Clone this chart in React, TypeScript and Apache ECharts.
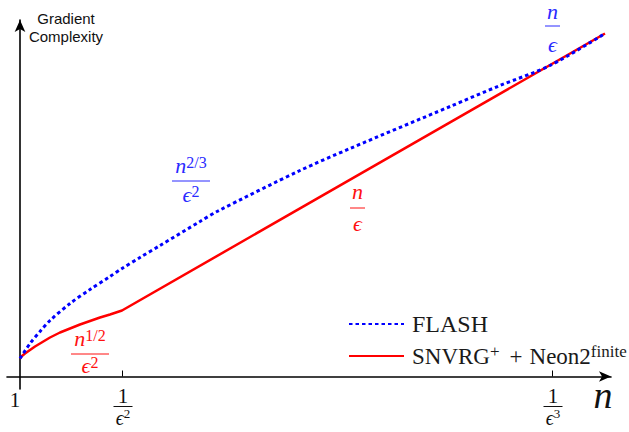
import { useEffect, useRef } from "react";
import * as echarts from "echarts";

const SERIF = "Liberation Serif, DejaVu Serif, serif";
const SANS = "Liberation Sans, Arial, sans-serif";

const FLASH_NAME = "FLASH";
const SNVRG_NAME = "SNVRG+ + Neon2finite";

// schematic units: x = position along n axis, y = gradient complexity
const snvrgX = [0, 2, 5, 10, 15, 20, 30, 40, 50, 60, 70, 80, 90, 102, 585];
const snvrgY = [18, 20.5, 23, 26.5, 30, 33, 39, 44, 48, 52, 55.5, 59, 62, 66, 343];
const flashX = [0, 10, 20, 30, 50, 70, 90, 102, 120, 140, 180, 197, 280, 330, 430, 480, 530, 585];
const flashY = [18, 33, 45, 56, 73, 87, 100, 108, 119, 131, 155, 165, 206, 228, 270, 291, 311, 343];

// x-axis ticks: 1/eps^2 and 1/eps^3
const tickValues = [102, 532];
const tickPowers = ["2", "3"];

const BLUE = "#0000ff";
const RED = "#ff0000";
const BLUE_TEXT = "#2a2aff";
const RED_TEXT = "#ff1010";

// curve annotations: anchor (bar centre) in data units
const curveLabels = [
  { x: 171, y: 195.5, num: "{i|n}{s|2/3}", den: "{i|ϵ}{s|2}", color: BLUE_TEXT, bar: 38, numDy: -15.5, denDy: 13 },
  { x: 337.5, y: 168.5, num: "{i|n}", den: "{i|ϵ}", color: RED_TEXT, bar: 15, numDy: -17, denDy: 15 },
  { x: 70, y: 22.5, num: "{i|n}{s|1/2}", den: "{i|ϵ}{s|2}", color: RED_TEXT, bar: 38, numDy: -16, denDy: 11 },
  { x: 532.5, y: 350.5, num: "{i|n}", den: "{i|ϵ}", color: BLUE_TEXT, bar: 15, numDy: -14.5, denDy: 18 },
];

function richFor(color: string) {
  return {
    i: { fontFamily: SERIF, fontStyle: "italic", fontSize: 22, lineHeight: 22, fill: color },
    s: { fontFamily: SERIF, fontSize: 16, lineHeight: 14, verticalAlign: "top", fill: color },
    r: { fontFamily: SERIF, fontSize: 21, lineHeight: 22, fill: color },
    is: { fontFamily: SERIF, fontStyle: "italic", fontSize: 20, lineHeight: 22, fill: color },
    ss: { fontFamily: SERIF, fontSize: 13, lineHeight: 13, verticalAlign: "top", fill: color },
  };
}

function textEl(x: number, y: number, text: string, color: string, extra: any = {}) {
  return {
    type: "text",
    x,
    y,
    z: 10,
    style: {
      text,
      fill: color,
      align: "center",
      verticalAlign: "middle",
      textAlign: "center",
      textVerticalAlign: "middle",
      rich: richFor(color),
      ...extra,
    },
  };
}

function barEl(cx: number, y: number, w: number, color: string) {
  return {
    type: "line",
    z: 10,
    shape: { x1: cx - w / 2, y1: y, x2: cx + w / 2, y2: y },
    style: { stroke: color, lineWidth: 1 },
  };
}

export default function App() {
  const ref = useRef<HTMLDivElement>(null);

  useEffect(() => {
    const chart = echarts.init(ref.current!, null, { renderer: "svg" });
    const axisLineStyle = { color: "#000", width: 1.6 };
    chart.setOption({
      animation: false,
      backgroundColor: "#fff",
      grid: { left: 7, right: 18, top: 20, bottom: 43, containLabel: false },
      xAxis: {
        type: "value",
        min: -13,
        max: 591,
        axisLine: {
          show: true,
          onZero: true,
          symbol: ["none", "arrow"],
          symbolSize: [8, 12],
          lineStyle: axisLineStyle,
        },
        axisTick: {
          show: true,
          inside: true,
          length: 6,
          customValues: tickValues,
          lineStyle: { color: "#000", width: 1 },
        },
        axisLabel: { show: false },
        splitLine: { show: false },
      },
      yAxis: {
        type: "value",
        min: -12.5,
        max: 356.5,
        axisLine: {
          show: true,
          onZero: true,
          symbol: ["none", "arrow"],
          symbolSize: [8, 12],
          lineStyle: axisLineStyle,
        },
        axisTick: { show: false },
        axisLabel: { show: false },
        splitLine: { show: false },
      },
      legend: {
        orient: "vertical",
        left: 343,
        top: 307,
        itemWidth: 55,
        itemHeight: 14,
        itemGap: 7,
        data: [FLASH_NAME, SNVRG_NAME],
        lineStyle: { width: 2 },
        itemStyle: { opacity: 0 },
        formatter: (name: string) =>
          name === FLASH_NAME ? "{f|FLASH}" : "{m|SNVRG}{s|+}{op|+}{m|Neon2}{s|finite}",
        textStyle: {
          padding: [0, 0, 0, 3],
          rich: {
            f: { fontFamily: SERIF, fontSize: 24, lineHeight: 26, color: "#1a1a1a" },
            m: { fontFamily: SERIF, fontSize: 23, lineHeight: 26, color: "#1a1a1a" },
            op: { fontFamily: SERIF, fontSize: 23, lineHeight: 26, padding: [0, 7, 0, 10], color: "#1a1a1a" },
            s: { fontFamily: SERIF, fontSize: 17, lineHeight: 15, verticalAlign: "top", color: "#1a1a1a" },
          },
        },
      },
      series: [
        {
          type: "line",
          name: SNVRG_NAME,
          data: snvrgX.map((x, i) => [x, snvrgY[i]]),
          symbol: "none",
          showSymbol: false,
          lineStyle: { color: RED, width: 2.5 },
          itemStyle: { color: RED },
          z: 2,
        },
        {
          type: "line",
          name: FLASH_NAME,
          data: flashX.map((x, i) => [x, flashY[i]]),
          symbol: "none",
          showSymbol: false,
          smooth: 0.3,
          lineStyle: { color: BLUE, width: 3, type: [3.5, 3] },
          itemStyle: { color: BLUE },
          z: 3,
        },
      ],
    });

    const p = (x: number, y: number) => chart.convertToPixel({ gridIndex: 0 }, [x, y]) as number[];
    const origin = p(0, 0);
    const axisY = origin[1];
    const graphics: any[] = [];

    // y-axis title
    graphics.push(
      textEl(origin[0] + 46, p(0, 356.5)[1] + 7, "Gradient\nComplexity", "#111", {
        fontFamily: SANS,
        fontSize: 15,
        lineHeight: 18,
        rich: undefined,
      })
    );

    // x tick labels
    graphics.push(textEl(origin[0] - 5, axisY + 23.5, "{r|1}", "#111"));
    tickValues.forEach((v, k) => {
      const cx = p(v, 0)[0] + 1;
      const by = axisY + 30;
      graphics.push(textEl(cx, by - 11, "{r|1}", "#111"));
      graphics.push(barEl(cx, by, 19, "#111"));
      graphics.push(textEl(cx, by + 11, "{is|ϵ}{ss|" + tickPowers[k] + "}", "#111"));
    });

    // axis name n
    graphics.push(
      textEl(p(583, 0)[0], axisY + 18.5, "n", "#111", {
        fontFamily: SERIF,
        fontStyle: "italic",
        fontSize: 38,
        rich: undefined,
      })
    );

    // curve annotations
    curveLabels.forEach((l) => {
      const [cx, cy] = p(l.x, l.y);
      graphics.push(textEl(cx, cy + l.numDy, l.num, l.color));
      graphics.push(barEl(cx, cy, l.bar, l.color));
      graphics.push(textEl(cx, cy + l.denDy, l.den, l.color));
    });

    chart.setOption({ graphic: graphics });
    return () => chart.dispose();
  }, []);

  return (
    <div
      ref={ref}
      style={{ position: "fixed", left: 0, top: 0, width: 629, height: 432, background: "#fff" }}
    />
  );
}
